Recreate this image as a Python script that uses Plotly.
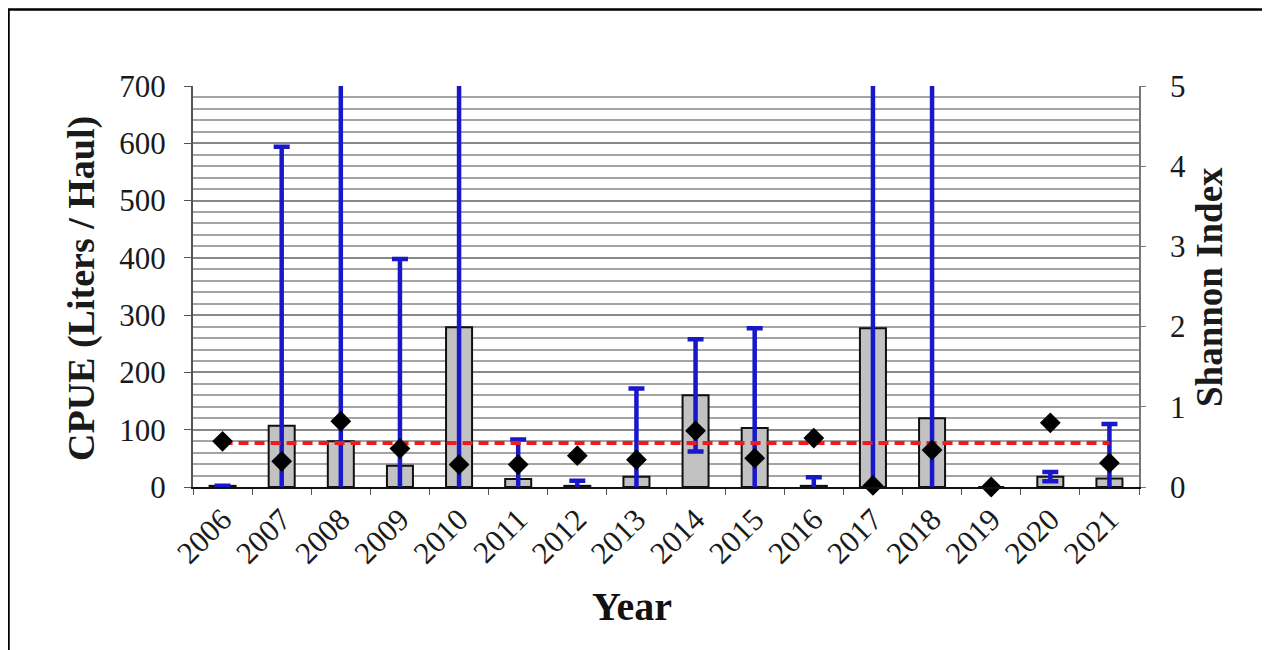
import plotly.graph_objects as go

years = ["2006", "2007", "2008", "2009", "2010", "2011", "2012", "2013",
         "2014", "2015", "2016", "2017", "2018", "2019", "2020", "2021"]
cpue = [2, 107, 80, 37, 279, 14, 2, 18, 160, 103, 2, 277, 120, 0, 18, 15]
cpue_err = [0, 487, 900, 361, 900, 69, 9, 154, 98, 174, 15, 900, 900, 0, 8, 95]
shannon = [0.57, 0.32, 0.82, 0.48, 0.28, 0.28, 0.39, 0.34,
           0.70, 0.36, 0.61, 0.02, 0.46, 0.0, 0.80, 0.30]
mean_cpue = 77

SERIF = "Liberation Serif, Times New Roman, serif"

# plot area in figure pixels (page has an 8px body margin)
L, T, PW, PH = 185, 78, 946, 401
B = T + PH


def px(x):
    return (x - L) / PW


def py(y):
    return (B - y) / PH


fig = go.Figure()

fig.add_trace(go.Bar(
    x=years, y=cpue, width=0.44,
    marker=dict(color="#c2c2c2", line=dict(color="#111111", width=2)),
    error_y=dict(type="data", array=cpue_err, symmetric=True,
                 color="#1818c8", thickness=4.5, width=8),
    showlegend=False, yaxis="y",
))

fig.add_trace(go.Scatter(
    x=[years[0], years[-1]], y=[mean_cpue, mean_cpue], mode="lines",
    line=dict(color="#ee1c1c", width=4, dash="10px,6px"),
    showlegend=False, yaxis="y",
))

fig.add_trace(go.Scatter(
    x=years, y=shannon, mode="markers",
    marker=dict(symbol="diamond", size=16, color="black"),
    showlegend=False, yaxis="y2", cliponaxis=False,
))

fig.update_layout(
    width=1262, height=642,
    margin=dict(l=L, r=1262 - L - PW, t=T, b=642 - B),
    paper_bgcolor="white", plot_bgcolor="white",
    font=dict(family=SERIF, color="#1a1a1a"),
    xaxis=dict(
        type="category", range=[-0.5, 15.5],
        showline=True, linecolor="#111", linewidth=2,
        ticks="outside", tickson="boundaries", ticklen=6, tickcolor="#555",
        tickangle=-45, tickfont=dict(size=31, family=SERIF, color="#1a1a1a"),
        showgrid=False, zeroline=False,
    ),
    yaxis=dict(
        range=[0, 700], dtick=100, showline=True, linecolor="#555", linewidth=2,
        ticks="outside", ticklen=7, tickcolor="#555",
        tickfont=dict(size=31, family=SERIF, color="#1a1a1a"),
        ticklabelstandoff=12,
        showgrid=True, gridcolor="#888888", gridwidth=2, zeroline=False,
        minor=dict(dtick=20, showgrid=True, gridcolor="#a4a4a4", gridwidth=1.5),
    ),
    yaxis2=dict(
        range=[0, 5], dtick=1, overlaying="y", side="right",
        showline=True, linecolor="#777", linewidth=1.5,
        ticks="outside", ticklen=5, tickcolor="#777",
        tickfont=dict(size=31, family=SERIF, color="#1a1a1a"),
        ticklabelstandoff=18,
        showgrid=False, zeroline=False,
    ),
    annotations=[
        dict(text="<b>CPUE (Liters / Haul)</b>", xref="paper", yref="paper",
             x=px(73), y=py(281), xanchor="center", yanchor="middle",
             textangle=-90, showarrow=False,
             font=dict(size=38, family=SERIF, color="#1a1a1a")),
        dict(text="<b>Shannon Index</b>", xref="paper", yref="paper",
             x=px(1201), y=py(279), xanchor="center", yanchor="middle",
             textangle=-90, showarrow=False,
             font=dict(size=37, family=SERIF, color="#1a1a1a")),
        dict(text="<b>Year</b>", xref="paper", yref="paper",
             x=px(624), y=py(598), xanchor="center", yanchor="middle",
             showarrow=False, font=dict(size=40, family=SERIF, color="#111")),
    ],
    shapes=[
        dict(type="rect", xref="paper", yref="paper",
             x0=px(0.5), x1=px(1258), y0=py(720), y1=py(1.5),
             line=dict(color="black", width=2.5), fillcolor="rgba(0,0,0,0)",
             layer="above"),
    ],
)

fig.write_html("out.html")
